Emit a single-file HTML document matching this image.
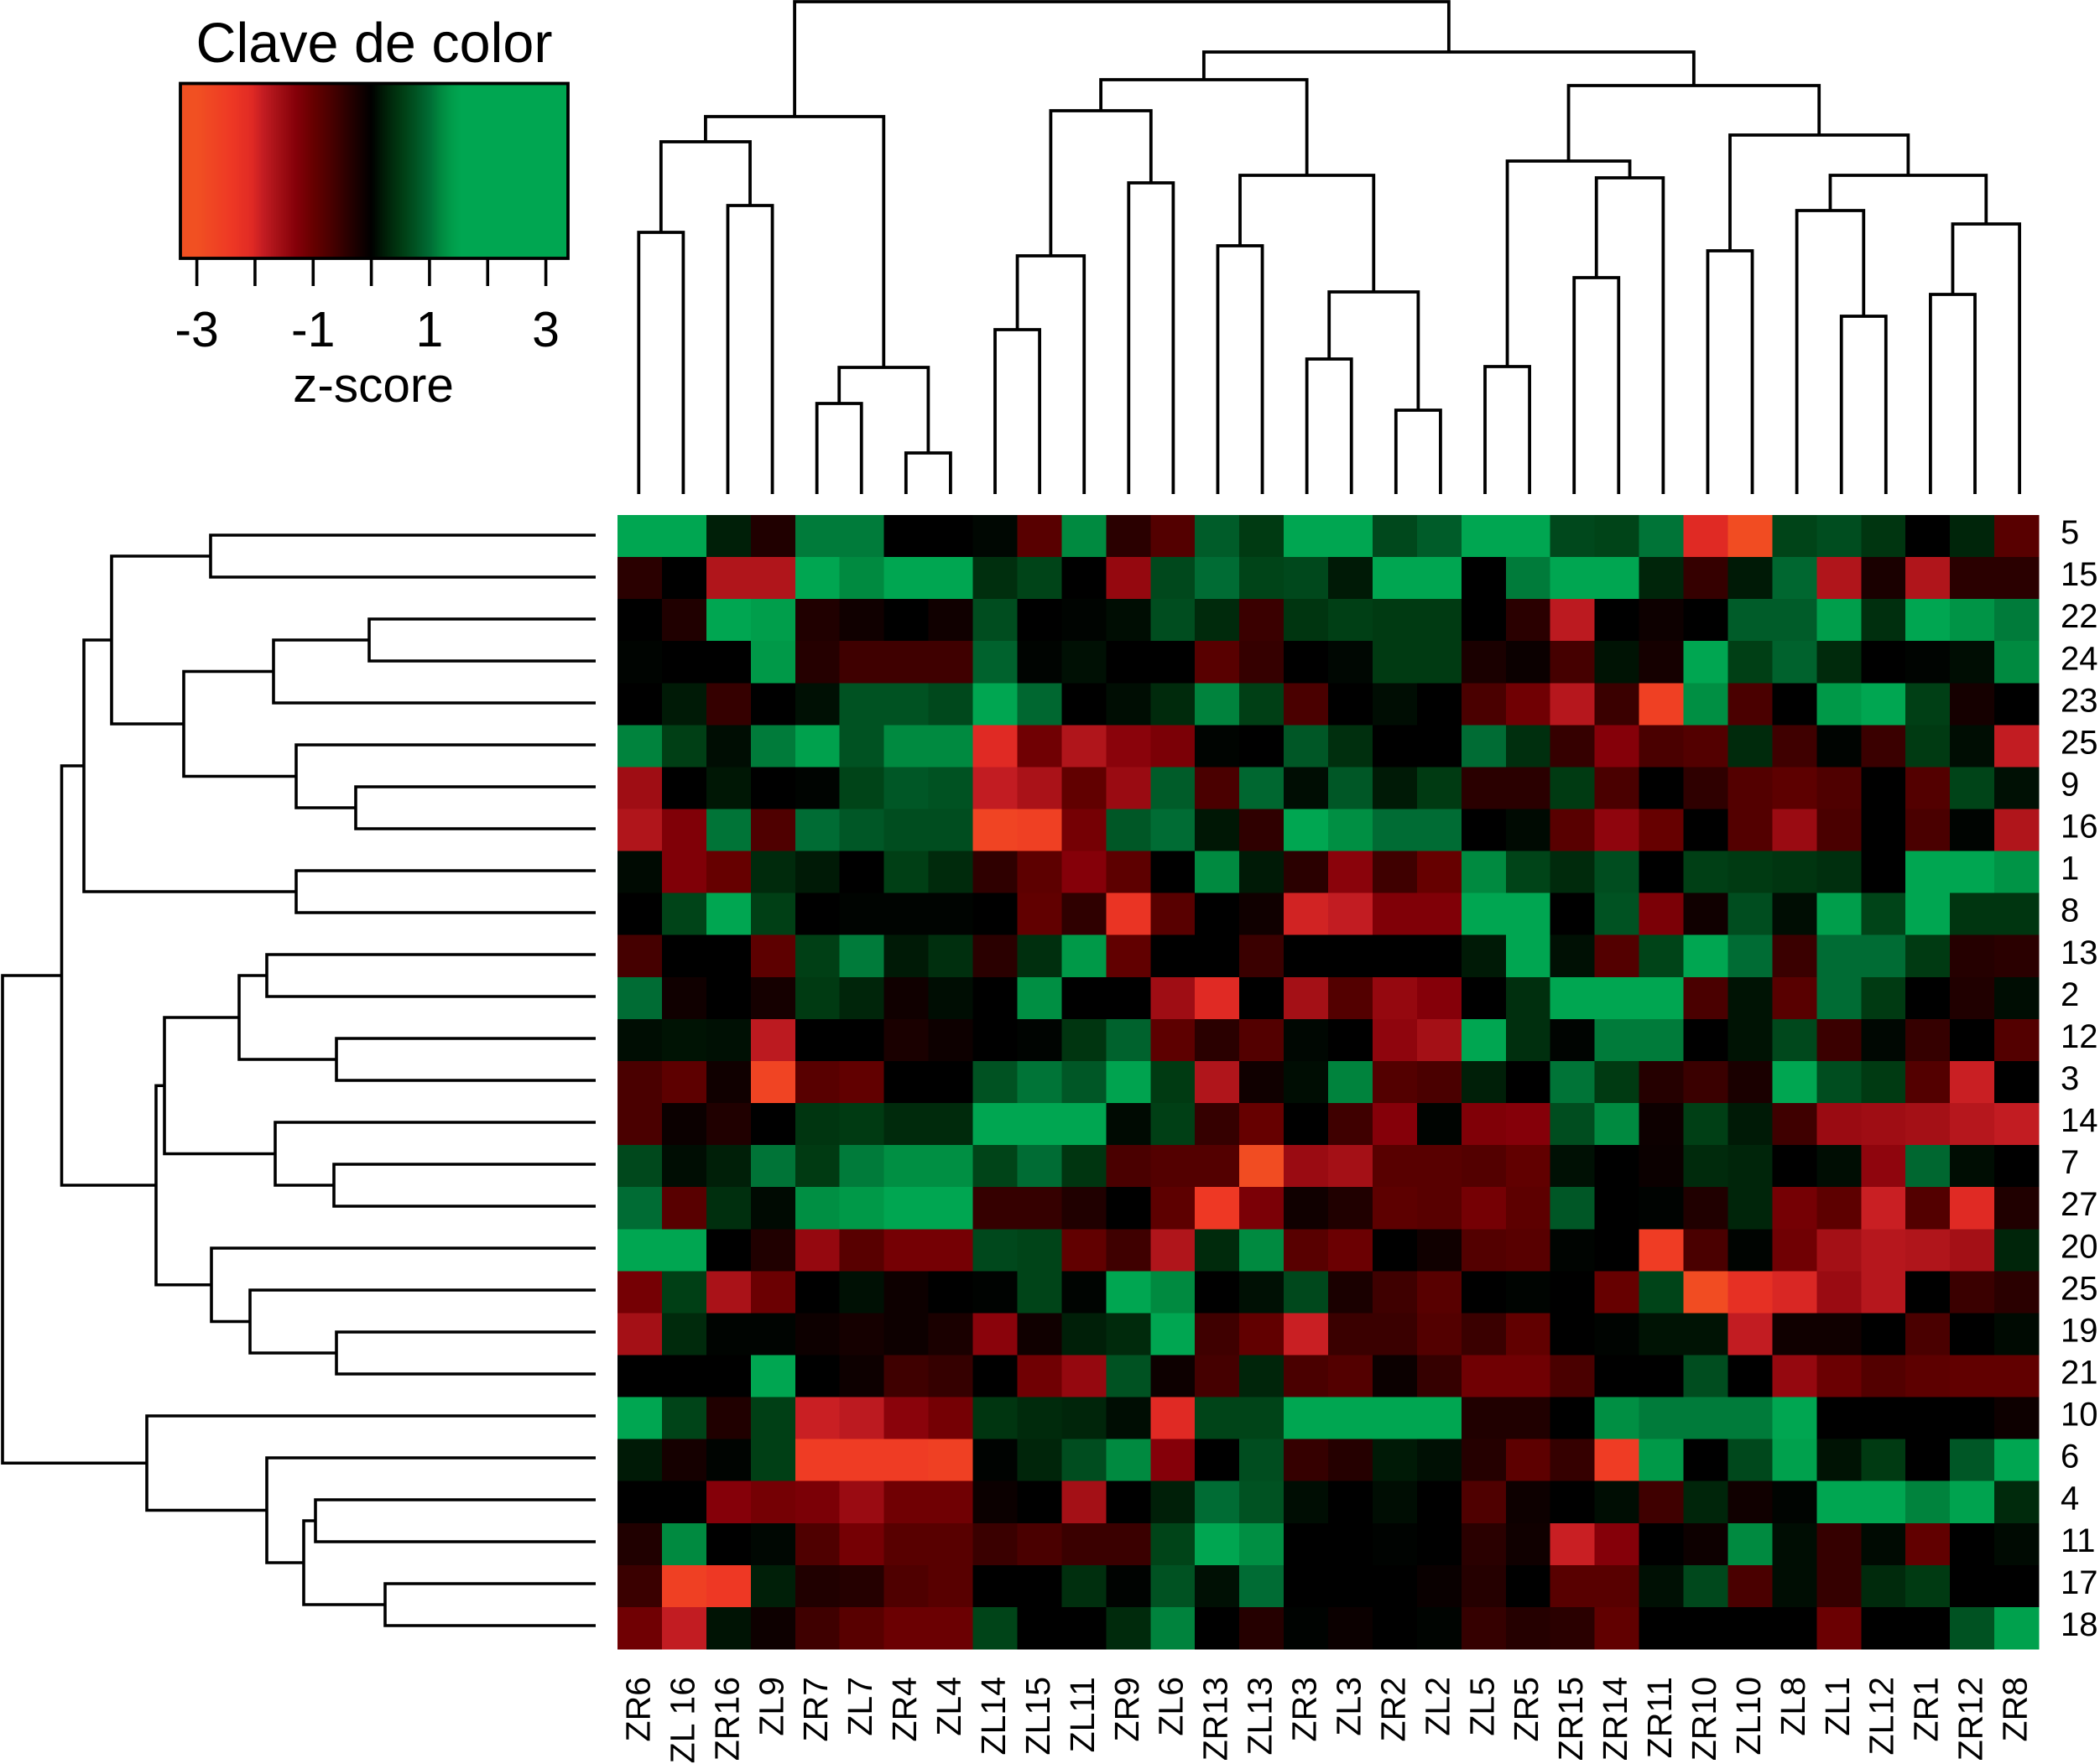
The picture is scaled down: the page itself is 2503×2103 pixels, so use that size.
<!DOCTYPE html>
<html lang="es">
<head>
<meta charset="utf-8">
<title>Clave de color heatmap</title>
<style>
html,body{margin:0;padding:0;background:#fff;}
svg{display:block;}
text{font-family:"Liberation Sans",Arial,sans-serif;fill:#000;}
</style>
</head>
<body>
<svg id="chart" xmlns="http://www.w3.org/2000/svg" width="2503" height="2103" viewBox="0 0 2503 2103">
  <rect x="0" y="0" width="2503" height="2103" fill="#fff"/>
  <g id="legend">
    <text x="446" y="74" font-size="66.5" text-anchor="middle">Clave de color</text>
    <g id="legend-ramp"></g>
    <rect x="215" y="99.5" width="462" height="208.5" fill="none" stroke="#000" stroke-width="3.8"/>
    <g id="legend-ticks"></g>
    <text x="445" y="479" font-size="58.5" text-anchor="middle">z-score</text>
  </g>
  <g id="top-dendro" fill="none" stroke="#000" stroke-width="3.8"></g>
  <g id="left-dendro" fill="none" stroke="#000" stroke-width="3.6"></g>
  <g id="cells" shape-rendering="crispEdges"></g>
  <g id="row-labels"></g>
  <g id="col-labels"></g>
</svg>
<script>
var colLabels = ["ZR6","ZL 16","ZR16","ZL9","ZR7","ZL7","ZR4","ZL4","ZL14","ZL15","ZL11","ZR9","ZL6","ZR13","ZL13","ZR3","ZL3","ZR2","ZL2","ZL5","ZR5","ZR15","ZR14","ZR11","ZR10","ZL10","ZL8","ZL1","ZL12","ZR1","ZR12","ZR8"];
var rowLabels = ["5","15","22","24","23","25","9","16","1","8","13","2","12","3","14","7","27","20","25","19","21","10","6","4","11","17","18"];
var keyTickValues = [-3,-2,-1,0,1,2,3];
var keyTickLabels = ["-3","","-1","","1","","3"];

var zScores = [
[1.6,1.6,.25,-.3,1.1,1.1,0,0,.05,-.85,1.2,-.4,-.8,.85,.5,1.6,1.6,.65,.85,1.6,1.6,.65,.6,1.05,-2.05,-2.9,.6,.7,.45,0,.3,-.85],
[-.4,0,-1.7,-1.7,1.6,1.2,1.6,1.6,.4,.6,0,-1.45,.65,1,.6,.65,.2,1.6,1.6,0,1.1,1.55,1.6,.3,-.5,.2,.95,-1.7,-.25,-1.7,-.4,-.4],
[0,-.3,1.6,1.4,-.3,-.15,0,-.15,.7,0,.03,.1,.7,.35,-.55,.45,.55,.5,.5,0,-.4,-1.8,0,-.12,0,.85,.85,1.4,.4,1.6,1.3,1.1],
[.03,0,0,1.35,-.35,-.6,-.6,-.6,.9,.03,.12,0,0,-.85,-.5,0,.05,.5,.5,-.25,-.1,-.65,.15,-.2,1.55,.55,.9,.35,0,.03,.1,1.2],
[0,.2,-.5,0,.12,.75,.75,.65,1.6,.95,0,.1,.35,1.15,.55,-.7,0,.1,0,-.7,-1.1,-1.75,-.55,-2.6,1.25,-.7,0,1.35,1.6,.55,-.2,0],
[1.15,.55,.1,1.1,1.45,.75,1.2,1.2,-2.05,-1.1,-1.7,-1.35,-1.2,.03,0,.8,.4,0,0,1,.4,-.5,-1.3,-.7,-.8,.35,-.6,.03,-.55,.5,.1,-1.85],
[-1.55,0,.18,0,.03,.6,.8,.75,-1.85,-1.65,-.95,-1.5,.85,-.7,.95,.1,.8,.2,.5,-.4,-.4,.5,-.7,0,-.45,-.8,-.9,-.75,0,-.8,.6,.12],
[-1.7,-1.25,1.05,-.75,1,.8,.7,.7,-2.7,-2.6,-1.15,.8,1,.18,-.45,1.6,1.25,1,1,0,.08,-.85,-1.4,-1,0,-.8,-1.5,-.7,0,-.7,.03,-1.7],
[.08,-1.25,-1,.35,.2,0,.55,.35,-.45,-.9,-1.3,-.9,0,1.2,.2,-.4,-1.35,-.6,-1,1.2,.6,.35,.7,0,.55,.5,.45,.4,0,1.6,1.6,1.3],
[0,.6,1.6,.55,0,.03,.03,.03,0,-.95,-.45,-2.3,-.85,0,-.15,-1.95,-1.85,-1.25,-1.25,1.65,1.6,0,.75,-1.2,-.15,.7,.1,1.4,.6,1.55,.45,.45],
[-.65,0,0,-.9,.55,1.1,.2,.4,-.4,.4,1.35,-.95,0,0,-.55,0,0,0,0,.2,1.55,.12,-.8,.6,1.55,1,-.55,1,1,.5,-.35,-.4],
[1,-.15,0,-.2,.5,.3,-.15,.1,0,1.25,0,0,-1.55,-2.05,0,-1.6,-.8,-1.45,-1.3,0,.4,1.6,1.6,1.6,-.7,.15,-.85,1,.5,0,-.3,.1],
[.1,.15,.12,-1.8,0,0,-.25,-.12,0,.03,.45,.9,-.9,-.4,-.8,.05,0,-1.4,-1.6,1.6,.4,.03,1.1,1.1,0,.15,.65,-.55,.05,-.5,0,-.8],
[-.7,-.9,-.15,-2.7,-.85,-.95,0,0,.75,1.05,.8,1.5,.5,-1.7,-.15,.1,1.15,-.8,-.7,.25,0,1.05,.5,-.35,-.55,-.25,1.55,.7,.5,-.8,-1.9,0],
[-.7,-.1,-.3,0,.45,.5,.35,.35,1.6,1.6,1.6,.08,.55,-.5,-1,0,-.6,-1.3,.03,-1.25,-1.3,.7,1.2,-.12,.55,.2,-.6,-1.5,-1.55,-1.6,-1.75,-1.85],
[.65,.1,.25,1.05,.5,1.1,1.25,1.25,.6,1,.45,-.7,-.8,-.8,-2.9,-1.5,-1.6,-.85,-.85,-.8,-.95,.12,0,-.1,.35,.3,0,.1,-1.4,.95,.1,0],
[1,-.85,.4,.08,1.25,1.35,1.55,1.55,-.5,-.5,-.3,0,-.9,-2.4,-1.2,-.15,-.3,-.9,-.85,-1.15,-.9,.8,0,.02,-.3,.3,-1.15,-.9,-1.9,-.8,-2.05,-.3],
[1.6,1.6,0,-.3,-1.45,-.85,-1.15,-1.15,.65,.6,-.95,-.6,-1.7,.35,1.2,-.85,-1.05,0,-.15,-.8,-.85,.03,0,-2.5,-.7,.03,-1.1,-1.6,-1.75,-1.7,-1.6,.3],
[-1.15,.55,-1.65,-1.05,0,.12,-.12,0,.02,.6,.03,1.6,1.2,0,.12,.65,-.25,-.6,-.85,0,.03,0,-1,.6,-2.9,-2.2,-2,-1.5,-1.75,0,-.55,-.4],
[-1.6,.35,.03,.03,-.12,-.2,-.12,-.25,-1.35,-.15,.25,.35,1.6,-.6,-.95,-1.9,-.55,-.55,-.8,-.55,-.95,0,.03,.15,.15,-1.85,-.15,-.15,0,-.7,0,.08],
[0,0,0,1.55,0,-.12,-.6,-.5,0,-1.1,-1.45,.75,-.12,-.65,.3,-.7,-.8,-.1,-.5,-1.1,-1.1,-.7,0,0,.7,0,-1.45,-1.05,-.8,-.9,-.95,-.95],
[1.55,.6,-.3,.55,-1.9,-1.8,-1.35,-1.15,.45,.35,.3,.1,-2.05,.6,.6,1.6,1.6,1.65,1.7,-.3,-.3,0,1.25,1.1,1.1,1.1,1.6,0,0,0,0,-.12],
[.2,-.2,.03,.55,-2.5,-2.5,-2.5,-2.6,.02,.3,.7,1.2,-1.3,0,.7,-.5,-.35,.2,.12,-.35,-.9,-.5,-2.5,1.35,0,.65,1.45,.15,.5,0,.8,1.55],
[0,0,-1.3,-1.15,-1.2,-1.5,-1.1,-1.1,-.1,0,-1.6,0,.25,1,.75,.1,0,.1,0,-.75,-.12,0,.1,-.6,.3,-.15,.03,1.55,1.55,1.15,1.5,.35],
[-.3,1.2,0,.05,-.75,-1.15,-.85,-.85,-.55,-.7,-.55,-.55,.6,1.6,1.25,0,0,.02,0,-.4,-.15,-1.9,-1.3,0,-.12,1.2,.1,-.5,.08,-.95,0,.08],
[-.55,-2.6,-2.4,.25,-.3,-.35,-.75,-.85,0,0,.4,.02,.75,.12,1,0,0,0,-.08,-.35,0,-.85,-.85,.12,.65,-.7,.1,-.5,.35,.5,0,0],
[-1.1,-1.85,.15,-.12,-.6,-.85,-1.05,-1.05,.6,0,0,.35,1.15,0,-.35,.02,-.1,0,.03,-.5,-.35,-.4,-.95,0,0,0,0,-1.05,0,0,.75,1.45]
];

/* hierarchical clustering: negative = leaf (1-based), positive = earlier merge (1-based) */
var topMergeA = [-1,-3,1,-5,-7,4,3,-9,8,-12,9,-14,-16,-18,13,12,11,-20,-22,19,18,-25,-28,-27,-30,25,24,22,21,17,7];
var topMergeB = [-2,-4,2,-6,-8,5,6,-10,-11,-13,10,-15,-17,-19,14,15,16,-21,-23,-24,20,-26,-29,23,-31,-32,26,27,28,29,30];
var topHeights = [3.12,3.44,4.20,1.08,.49,1.51,4.50,1.96,2.84,3.71,4.57,2.96,1.61,1.00,2.41,3.80,4.94,1.52,2.58,3.77,3.97,2.90,2.12,3.38,2.38,3.22,3.80,4.28,4.87,5.27,5.87];

var leftMergeA = [-1,-3,2,-7,-6,3,1,-9,7,-11,-13,10,-16,-15,12,-20,-19,-18,15,9,-24,-26,21,-23,-22,20];
var leftMergeB = [-2,-4,-5,-8,4,5,6,-10,8,-12,-14,11,-17,13,14,-21,16,17,18,19,-25,-27,22,23,24,25];
var leftHeights = [4.59,2.70,3.84,2.86,3.57,4.91,5.77,3.57,6.10,3.92,3.09,4.25,3.12,3.82,5.14,3.09,4.12,4.58,5.24,6.365,3.34,2.51,3.48,3.92,5.35,7.07];

var rampZ = [-3,-2.4,-2.05,-1.85,-1.6,-1.3,-1,-.7,-.4,-.15,0,.2,.5,.75,1,1.2,1.4,1.55,3];
var rampR = [241,238,224,194,164,133,102,74,42,16,0,0,0,0,0,0,0,0,0];
var rampG = [80,56,42,28,16,0,0,0,0,0,0,26,58,82,108,138,158,166,166];
var rampB = [34,36,36,34,22,9,0,0,0,0,0,6,18,34,52,64,75,81,81];

var SVGNS = "http://www.w3.org/2000/svg";
var HM_L = 736, HM_R = 2430, HM_T = 614, HM_B = 1966;
var cellW = (HM_R - HM_L) / colLabels.length;
var cellH = (HM_B - HM_T) / rowLabels.length;

function colX(i){ return HM_L + cellW * (i + 0.5); }
function rowY(i){ return HM_T + cellH * (i + 0.5); }
function leafX(i){ return 761.3 + i * 53.09; }
function leafY(i){ return 638 + i * 50; }
function topY(h){ return 589 - h * 100; }
function leftX(h){ return 710 - h * 100; }
function keyX(z){ return 442.6 + z * 69.33; }

function zColor(z){
  var n = rampZ.length;
  if (z <= rampZ[0]) return "rgb(" + rampR[0] + "," + rampG[0] + "," + rampB[0] + ")";
  if (z >= rampZ[n-1]) return "rgb(" + rampR[n-1] + "," + rampG[n-1] + "," + rampB[n-1] + ")";
  for (var k = 0; k < n - 1; k++){
    if (z <= rampZ[k+1]){
      var t = (z - rampZ[k]) / (rampZ[k+1] - rampZ[k]);
      return "rgb(" + Math.round(rampR[k] + t*(rampR[k+1]-rampR[k])) + "," +
                      Math.round(rampG[k] + t*(rampG[k+1]-rampG[k])) + "," +
                      Math.round(rampB[k] + t*(rampB[k+1]-rampB[k])) + ")";
    }
  }
}

/* heatmap cells */
var cellsG = document.getElementById("cells");
zScores.forEach(function(row, r){
  row.forEach(function(z, c){
    var rect = document.createElementNS(SVGNS, "rect");
    
    
    rect.setAttribute("x", colX(c) - cellW/2);
    rect.setAttribute("y", rowY(r) - cellH/2);
    rect.setAttribute("width", cellW + 0.5);
    rect.setAttribute("height", cellH + 0.5);
    rect.setAttribute("fill", zColor(z));
    cellsG.appendChild(rect);
  });
});

/* row labels */
var rowG = document.getElementById("row-labels");
rowLabels.forEach(function(label, i){
  var t = document.createElementNS(SVGNS, "text");
  
  
  t.setAttribute("x", 2456);
  t.setAttribute("y", rowY(i) + 9);
  t.setAttribute("font-size", 40);
  t.textContent = label;
  rowG.appendChild(t);
});

/* column labels */
var colG = document.getElementById("col-labels");
colLabels.forEach(function(label, i){
  var t = document.createElementNS(SVGNS, "text");
  
  
  t.setAttribute("font-size", 41);
  t.setAttribute("text-anchor", "end");
  t.setAttribute("transform", "translate(" + (colX(i) + 12) + ",1999) rotate(-90)");
  t.textContent = label;
  colG.appendChild(t);
});

/* dendrograms */
function drawDendrogram(groupId, mergeA, mergeB, heights, leafPos, heightPos, leafEnd, horizontalRoot, segName){
  var g = document.getElementById(groupId);
  var pos = [];
  function childPos(id){ return id < 0 ? leafPos(-id - 1) : pos[id - 1]; }
  function childH(id){ return id < 0 ? leafEnd : heightPos(heights[id - 1]); }
  for (var m = 0; m < heights.length; m++){
    var a = childPos(mergeA[m]), b = childPos(mergeB[m]);
    var ha = childH(mergeA[m]), hb = childH(mergeB[m]), h = heightPos(heights[m]);
    pos.push((a + b) / 2);
    var d = horizontalRoot
      ? "M" + ha + " " + a + "H" + h + "V" + b + "H" + hb
      : "M" + a + " " + ha + "V" + h + "H" + b + "V" + hb;
    var p = document.createElementNS(SVGNS, "path");
    
    
    p.setAttribute("d", d);
    g.appendChild(p);
  }
}
drawDendrogram("top-dendro", topMergeA, topMergeB, topHeights, leafX, topY, 589, false, "column-dendrogram-merge");
drawDendrogram("left-dendro", leftMergeA, leftMergeB, leftHeights, leafY, leftX, 710, true, "row-dendrogram-merge");

/* color key */
var rampG_el = document.getElementById("legend-ramp");
for (var px = 215; px < 677; px += 2){
  var seg = document.createElementNS(SVGNS, "rect");
  
  
  seg.setAttribute("x", px);
  seg.setAttribute("y", 99.5);
  seg.setAttribute("width", 2.5);
  seg.setAttribute("height", 208.5);
  seg.setAttribute("fill", zColor((px + 1 - keyX(0)) / (keyX(1) - keyX(0))));
  rampG_el.appendChild(seg);
}
var tickG = document.getElementById("legend-ticks");
keyTickValues.forEach(function(v, i){
  var line = document.createElementNS(SVGNS, "line");
  
  
  line.setAttribute("x1", keyX(v));
  line.setAttribute("x2", keyX(v));
  line.setAttribute("y1", 308);
  line.setAttribute("y2", 341);
  line.setAttribute("stroke", "#000");
  line.setAttribute("stroke-width", 3.6);
  tickG.appendChild(line);
  if (keyTickLabels[i]){
    var t = document.createElementNS(SVGNS, "text");
    
    
    t.setAttribute("x", keyX(v));
    t.setAttribute("y", 413);
    t.setAttribute("font-size", 59);
    t.setAttribute("text-anchor", "middle");
    t.textContent = keyTickLabels[i];
    tickG.appendChild(t);
  }
});
</script>
</body>
</html>
